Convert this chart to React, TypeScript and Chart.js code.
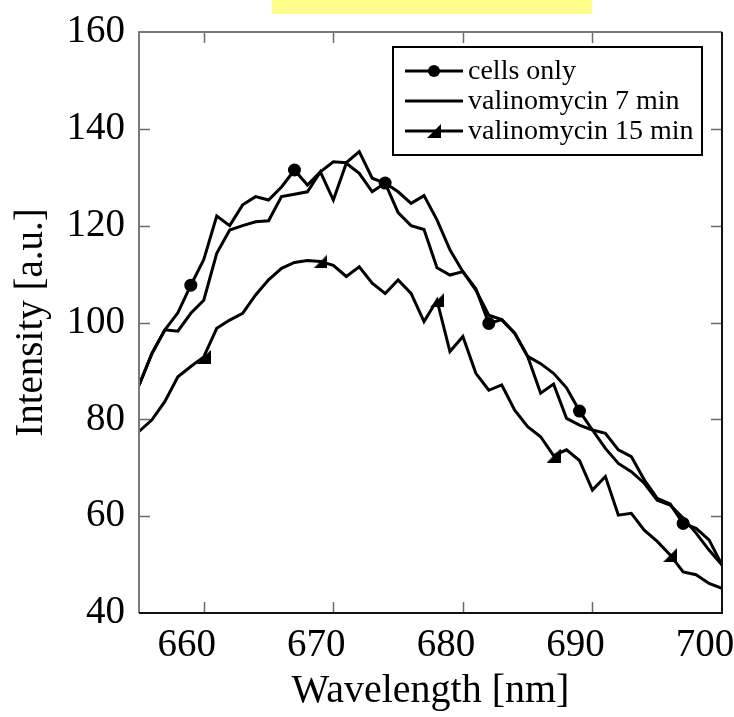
import React, { useEffect, useRef } from "react";
import { Chart, registerables } from "chart.js";

Chart.register(...registerables);

const wavelengths = [
  655, 656, 657, 658, 659, 660, 661, 662, 663, 664, 665, 666, 667, 668, 669, 670,
  671, 672, 673, 674, 675, 676, 677, 678, 679, 680, 681, 682, 683, 684, 685, 686,
  687, 688, 689, 690, 691, 692, 693, 694, 695, 696, 697, 698, 699, 700,
];

const cellsOnly = [
  87, 93.6, 98.5, 102, 107.7, 113, 122, 120, 124.3, 126, 125.3, 128, 131.5, 128.4, 131.1, 133.2,
  133, 135.3, 129.8, 128.8, 127, 124.6, 126.2, 121.2, 115, 110.5, 107, 99.8, 100.6, 97.8, 93, 91.5,
  89.5, 86.5, 81.7, 77.8, 77.1, 73.7, 72.3, 67.5, 63.7, 62.5, 58.5, 57.5, 55.1, 49.9,
];

const valinomycin7 = [
  87, 93.6, 98.5, 98.2, 101.9, 104.6, 114.3, 119.1, 120, 120.8, 121, 126, 126.5, 127, 131.1, 125.3,
  132.9, 130.8, 127, 128.8, 122.7, 120, 119.2, 111.3, 109.8, 110.5, 106.7, 101.5, 100.6, 97.8, 93, 85.4,
  87.3, 80.2, 78.8, 77.8, 74, 70.9, 69.2, 66.8, 63.3, 62.3, 59.6, 56.5, 53, 49.9,
];

const valinomycin15 = [
  77.5, 79.9, 83.7, 88.8, 90.9, 92.9, 98.8, 100.5, 101.9, 105.7, 108.8, 111.2, 112.4, 112.8, 112.6, 111.8,
  109.5, 111.5, 108.1, 106, 108.8, 106, 100.2, 104.6, 94, 97.1, 89.5, 86, 87.1, 81.9, 78.5, 76.4,
  72.5, 73.7, 71.5, 65.4, 68.2, 60.2, 60.6, 57.1, 54.8, 52, 48.5, 47.9, 46.1, 45.1,
];

const seriesNames = ["cells only", "valinomycin 7 min", "valinomycin 15 min"];
const cellsMarkerAt = [659, 667, 674, 682, 689, 697];
const valinomycin15MarkerAt = [660, 669, 678, 687, 696];

const xTicks = [660, 670, 680, 690, 700];
const yTicks = [40, 60, 80, 100, 120, 140, 160];
const xTitle = "Wavelength [nm]";
const yTitle = "Intensity [a.u.]";

const FONT = '"Liberation Serif", "Times New Roman", Times, serif';

export default function App() {
  const ref = useRef<HTMLCanvasElement>(null);

  useEffect(() => {
    if (!ref.current) return;

    const tri = document.createElement("canvas");
    tri.width = 14;
    tri.height = 14;
    const tctx = tri.getContext("2d")!;
    tctx.fillStyle = "#000";
    tctx.beginPath();
    tctx.moveTo(14, 0);
    tctx.lineTo(14, 14);
    tctx.lineTo(0, 14);
    tctx.closePath();
    tctx.fill();

    const toPoints = (ys: number[]) => wavelengths.map((x, i) => ({ x, y: ys[i] }));

    const yellowBar = {
      id: "yellowBar",
      beforeDraw(chart: any) {
        const ctx = chart.ctx;
        ctx.save();
        ctx.fillStyle = "#FFFC8C";
        ctx.fillRect(272, 0, 320, 14);
        ctx.restore();
      },
    };

    const frame = {
      id: "frame",
      afterDatasetsDraw(chart: any) {
        const { ctx, chartArea: a, scales } = chart;
        ctx.save();
        ctx.lineWidth = 1.5;
        ctx.strokeStyle = "#6a6a6a";
        for (const v of xTicks) {
          const px = Math.round(scales.x.getPixelForValue(v)) + 0.5;
          if (px <= a.left + 2 || px >= a.right - 2) continue;
          ctx.beginPath();
          ctx.moveTo(px, a.bottom);
          ctx.lineTo(px, a.bottom - 11);
          ctx.moveTo(px, a.top);
          ctx.lineTo(px, a.top + 11);
          ctx.stroke();
        }
        for (const v of yTicks) {
          const py = Math.round(scales.y.getPixelForValue(v)) + 0.5;
          if (py <= a.top + 2 || py >= a.bottom - 2) continue;
          ctx.beginPath();
          ctx.moveTo(a.left, py);
          ctx.lineTo(a.left + 11, py);
          ctx.moveTo(a.right, py);
          ctx.lineTo(a.right - 11, py);
          ctx.stroke();
        }
        ctx.lineWidth = 2;
        ctx.strokeStyle = "#7a7a7a";
        ctx.beginPath();
        ctx.moveTo(a.left, a.bottom);
        ctx.lineTo(a.left, a.top);
        ctx.lineTo(a.right, a.top);
        ctx.stroke();
        ctx.strokeStyle = "#111";
        ctx.beginPath();
        ctx.moveTo(a.left, a.bottom);
        ctx.lineTo(a.right, a.bottom);
        ctx.lineTo(a.right, a.top);
        ctx.stroke();
        ctx.restore();
      },
    };

    const boxLegend = {
      id: "boxLegend",
      afterDraw(chart: any) {
        const ctx = chart.ctx;
        const bx = 393, by = 47, bw = 309, bh = 108;
        ctx.save();
        ctx.fillStyle = "#fff";
        ctx.fillRect(bx, by, bw, bh);
        ctx.lineWidth = 2;
        ctx.strokeStyle = "#000";
        ctx.strokeRect(bx, by, bw, bh);
        ctx.font = `28px ${FONT}`;
        ctx.textBaseline = "middle";
        ctx.textAlign = "left";
        chart.data.datasets.forEach((ds: any, i: number) => {
          const y = by + 24 + i * 30;
          ctx.strokeStyle = "#000";
          ctx.lineWidth = 3;
          ctx.beginPath();
          ctx.moveTo(bx + 12, y);
          ctx.lineTo(bx + 70, y);
          ctx.stroke();
          const mx = bx + 41;
          if (ds.markerKind === "circle") {
            ctx.fillStyle = "#000";
            ctx.beginPath();
            ctx.arc(mx, y, 6, 0, Math.PI * 2);
            ctx.fill();
          } else if (ds.markerKind === "triangle") {
            ctx.drawImage(tri, mx - 7, y - 7, 14, 14);
          }
          ctx.fillStyle = "#000";
          ctx.fillText(ds.label, bx + 75, y + 1);
        });
        ctx.restore();
      },
    };

    const chart = new Chart(ref.current, {
      type: "line",
      data: {
        datasets: [
          {
            label: seriesNames[0],
            data: toPoints(cellsOnly),
            borderColor: "#000",
            borderWidth: 3,
            backgroundColor: "#000",
            pointBackgroundColor: "#000",
            pointBorderWidth: 0,
            pointStyle: "circle",
            pointRadius: (c: any) => (cellsMarkerAt.includes(wavelengths[c.dataIndex]) ? 6.5 : 0),
            tension: 0,
            markerKind: "circle",
          } as any,
          {
            label: seriesNames[1],
            data: toPoints(valinomycin7),
            borderColor: "#000",
            borderWidth: 3,
            pointRadius: 0,
            tension: 0,
            markerKind: "none",
          } as any,
          {
            label: seriesNames[2],
            data: toPoints(valinomycin15),
            borderColor: "#000",
            borderWidth: 3,
            pointStyle: tri,
            pointRadius: (c: any) => (valinomycin15MarkerAt.includes(wavelengths[c.dataIndex]) ? 7 : 0),
            tension: 0,
            markerKind: "triangle",
          } as any,
        ],
      },
      options: {
        responsive: false,
        animation: false,
        events: [],
        layout: { padding: { top: 32, right: 12, left: 0, bottom: 0 } },
        plugins: { legend: { display: false }, tooltip: { enabled: false } },
        scales: {
          x: {
            type: "linear",
            min: 655,
            max: 700,
            afterBuildTicks: (s: any) => {
              s.ticks = xTicks.map((v) => ({ value: v }));
            },
            afterFit: (s: any) => {
              s.height = 104;
              s.paddingLeft = 0;
              s.paddingRight = 0;
            },
            grid: { display: false, drawTicks: false },
            border: { display: false },
            ticks: {
              padding: 9,
              labelOffset: -17,
              color: "#000",
              autoSkip: false,
              maxRotation: 0,
              font: { family: FONT, size: 39 },
            },
            title: {
              display: true,
              text: xTitle,
              color: "#000",
              font: { family: FONT, size: 40 },
              padding: { top: 0, bottom: 2 },
            },
          },
          y: {
            type: "linear",
            min: 40,
            max: 160,
            afterBuildTicks: (s: any) => {
              s.ticks = yTicks.map((v) => ({ value: v }));
            },
            afterFit: (s: any) => {
              s.width = 139;
              s.paddingTop = 0;
              s.paddingBottom = 0;
            },
            grid: { display: false, drawTicks: false },
            border: { display: false },
            ticks: {
              padding: 14,
              color: "#000",
              autoSkip: false,
              font: { family: FONT, size: 39 },
            },
            title: {
              display: true,
              text: yTitle,
              color: "#000",
              font: { family: FONT, size: 39 },
              padding: { top: 8, bottom: 0 },
            },
          },
        },
      },
      plugins: [yellowBar, frame, boxLegend],
    });

    return () => chart.destroy();
  }, []);

  return (
    <div style={{ position: "fixed", left: 0, top: 0, width: 734, height: 717, background: "#fff" }}>
      <canvas ref={ref} width={734} height={717} style={{ display: "block" }} />
    </div>
  );
}
